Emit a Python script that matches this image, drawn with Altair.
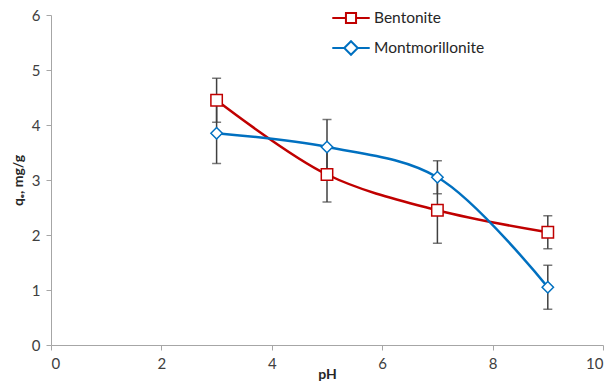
import altair as alt
import pandas as pd

# pH values and adsorption capacities (mg/g) with error half-widths
ph = [3, 5, 7, 9]
bentonite = [4.45, 3.1, 2.45, 2.05]
bentonite_err = [0.4, 0.5, 0.6, 0.3]
montmorillonite = [3.85, 3.6, 3.05, 1.05]
montmorillonite_err = [0.55, 0.5, 0.3, 0.4]

series_names = ["Bentonite", "Montmorillonite"]
series_colors = ["#C00000", "#0070C0"]

rows = []
for name, vals, errs in [("Bentonite", bentonite, bentonite_err),
                         ("Montmorillonite", montmorillonite, montmorillonite_err)]:
    for p, v, e in zip(ph, vals, errs):
        rows.append({"pH": p, "qe": v, "lo": v - e, "hi": v + e, "series": name})
df = pd.DataFrame(rows)

FONT = "Lato"

x = alt.X("pH:Q", scale=alt.Scale(domain=[0, 10]),
          axis=alt.Axis(title="pH", values=[0, 2, 4, 6, 8, 10], format="d",
                        titleFontWeight="bold", titleFontSize=14, titlePadding=-4,
                        labelFontSize=15, labelPadding=6, grid=False, domainColor="#A6A6A6",
                        tickColor="#A6A6A6", tickSize=5, labelColor="#404040",
                        titleColor="#262626"))
y = alt.Y("qe:Q", scale=alt.Scale(domain=[0, 6]),
          axis=alt.Axis(title="qₑ, mg/g", values=[0, 1, 2, 3, 4, 5, 6], format="d",
                        titleFontWeight="bold", titleFontSize=14, titlePadding=6,
                        labelFontSize=15, labelPadding=6, grid=False, domainColor="#A6A6A6",
                        tickColor="#A6A6A6", tickSize=5, labelColor="#404040",
                        titleColor="#262626"))

color_plain = alt.Color("series:N", scale=alt.Scale(domain=series_names, range=series_colors),
                        legend=None)

base = alt.Chart(df)

err_rule = base.mark_rule(color="#404040", strokeWidth=1.5).encode(
    x="pH:Q", y="lo:Q", y2="hi:Q")
err_cap_lo = base.mark_tick(color="#404040", thickness=1.5, size=9, orient="horizontal").encode(
    x="pH:Q", y="lo:Q")
err_cap_hi = base.mark_tick(color="#404040", thickness=1.5, size=9, orient="horizontal").encode(
    x="pH:Q", y="hi:Q")

lines = base.mark_line(interpolate="catmull-rom", strokeWidth=2.5).encode(
    x=x, y=y, color=color_plain, detail="series:N")

points = base.mark_point(filled=False, fill="white", fillOpacity=1, strokeWidth=1.5, size=130,
                         opacity=1).encode(
    x="pH:Q", y="qe:Q", color=color_plain,
    shape=alt.Shape("series:N", scale=alt.Scale(domain=series_names,
                                                range=["square", "diamond"]), legend=None))

# Legend entries: marker with a short line segment through it
legend_paths = [
    "M-1,0H-0.27M0.27,0H1M-0.27,-0.27H0.27V0.27H-0.27Z",
    "M-1,0H-0.36M0.36,0H1M-0.36,0L0,-0.36L0.36,0L0,0.36Z",
]
legend_layer = base.mark_point(opacity=0).encode(
    x="pH:Q", y="qe:Q",
    color=alt.Color("series:N", scale=alt.Scale(domain=series_names, range=series_colors),
                    legend=alt.Legend(title=None, orient="none", legendX=280, legendY=-17,
                                      labelFont=FONT, labelFontSize=15.5, labelColor="#262626",
                                      symbolSize=1400, symbolStrokeWidth=2,
                                      symbolFillColor="white", symbolOpacity=1,
                                      labelOffset=3, rowPadding=-10)),
    shape=alt.Shape("series:N", scale=alt.Scale(domain=series_names, range=legend_paths)),
)

chart = alt.layer(err_rule, err_cap_lo, err_cap_hi, lines, points, legend_layer).resolve_scale(
    color="independent", shape="independent"
).properties(
    width=552, height=330,
    autosize=alt.AutoSizeParams(type="none"),
    padding={"left": 51, "top": 15, "right": 10, "bottom": 40},
    background="white",
).configure_view(stroke=None).configure_axis(labelFont=FONT, titleFont=FONT)

chart.save("out.html", embed_options={"renderer": "svg", "actions": False})
